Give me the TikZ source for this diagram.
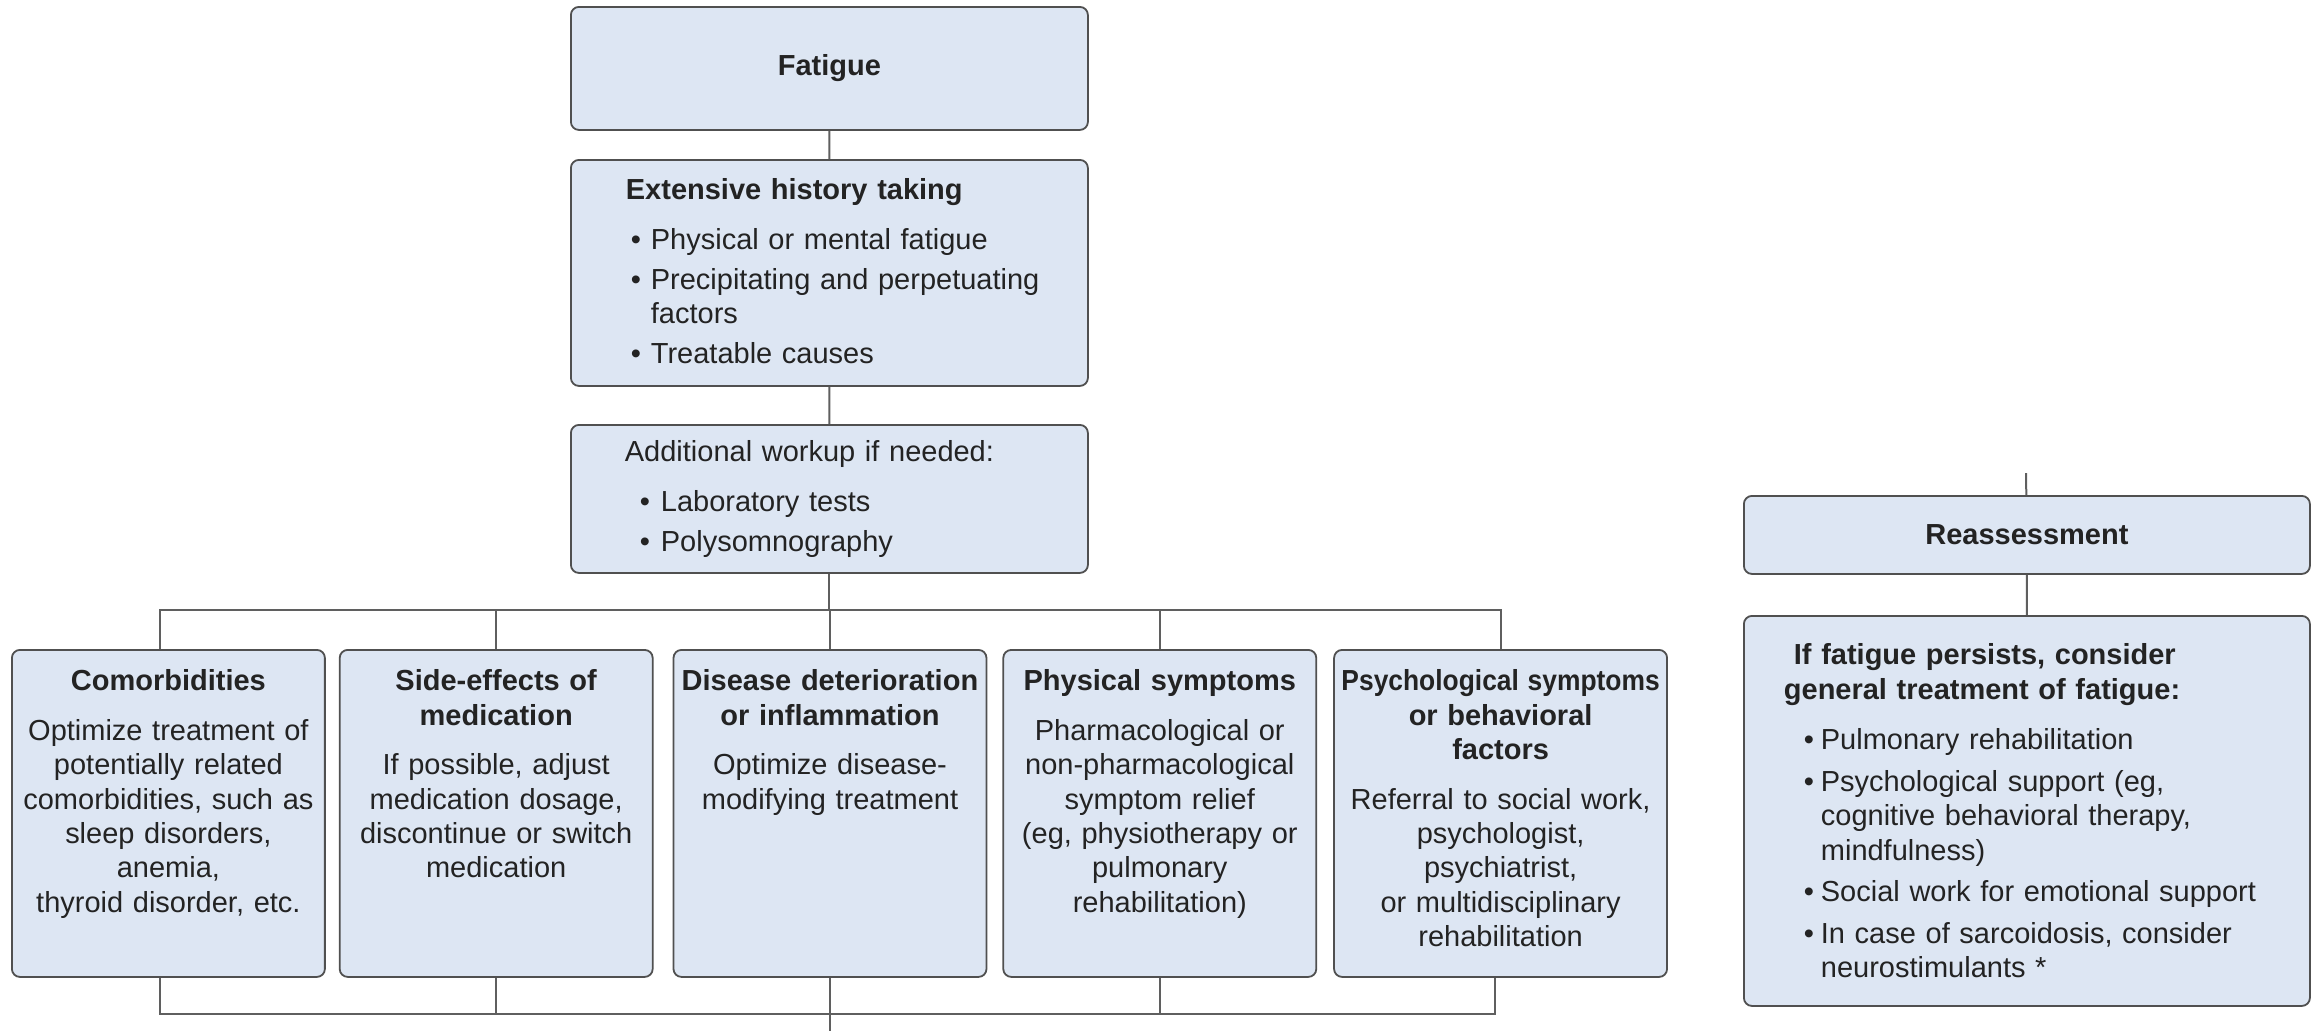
\documentclass[tikz,border=0pt]{standalone}
\usepackage{fontspec}
\usepackage{graphicx}
\setmainfont{Liberation Sans}
\usetikzlibrary{positioning}

\definecolor{boxfill}{RGB}{221,230,243}
\definecolor{boxdraw}{RGB}{80,80,80}
\definecolor{wiregray}{RGB}{95,95,95}
\definecolor{inkgray}{RGB}{35,35,35}

% bullet with indent #1 and bullet box #2
\newcommand{\bitem}[2]{\hspace*{#1}\makebox[#2][l]{\textbullet}}

\tikzset{
  box/.style={draw=boxdraw, fill=boxfill, line width=0.18mm, rounded corners=0.8mm,
    text=inkgray, inner sep=0pt, font=\fontsize{8.25}{9.8}\selectfont},
  title box/.style={box, font=\fontsize{8.25}{9.8}\selectfont\bfseries, anchor=north west},
  list box/.style={box, align=left, anchor=north west},
  cause/.style={box, align=center, anchor=north west, text width=31.3mm,
    text height=4.1mm, text depth=28.6mm},
  wire/.style={draw=wiregray, line width=0.2mm},
}

\begin{document}
\begin{tikzpicture}[x=0.1mm, y=-0.1mm]
\useasboundingbox (0,0) rectangle (2312,1031);

% main column
\node[title box, minimum width=51.7mm, minimum height=12.3mm] (fat) at (570,6) {Fatigue};
\node[list box, text width=40.7mm, inner xsep=5.5mm, text height=4mm, text depth=18.6mm] (his) at (570,159)
  {\textbf{Extensive history taking}\\[4.2pt]
   \bitem{0.5mm}{2mm}Physical or mental fatigue\\[1.6pt]
   \bitem{0.5mm}{2mm}\mbox{Precipitating and perpetuating}\\
   \hspace*{2.5mm}factors\\[1.6pt]
   \bitem{0.5mm}{2mm}Treatable causes};
\node[list box, text width=40.9mm, inner xsep=5.4mm, text height=3.7mm, text depth=11.1mm] (add) at (570,424)
  {Additional workup if needed:\\[4.2pt]
   \bitem{1.5mm}{2.1mm}Laboratory tests\\[1.6pt]
   \bitem{1.5mm}{2.1mm}Polysomnography};

% causes
\node[cause] (com) at (11,649)
  {\textbf{Comorbidities}\\[4.2pt]
   Optimize treatment of\\ potentially related\\ comorbidities, such as\\
   sleep disorders,\\ anemia,\\ thyroid disorder, etc.};
\node[cause, right=1.3mm of com] (sid)
  {\textbf{Side-effects of}\\ \textbf{medication}\\[4.2pt]
   If possible, adjust\\ medication dosage,\\ discontinue or switch\\ medication};
\node[cause, right=1.9mm of sid] (dis)
  {\textbf{Disease deterioration}\\ \textbf{or inflammation}\\[4.2pt]
   Optimize disease-\\ modifying treatment};
\node[cause, right=1.5mm of dis] (phy)
  {\textbf{Physical symptoms}\\[4.2pt]
   Pharmacological or\\ non-pharmacological\\ symptom relief\\
   (eg, physiotherapy or\\ pulmonary\\ rehabilitation)};
\node[cause, text width=33.3mm, right=1.6mm of phy] (psy)
  {\textbf{\scalebox{0.91}[1]{Psychological symptoms}}\\ \textbf{or behavioral}\\ \textbf{factors}\\[4.2pt]
   Referral to social work,\\ psychologist,\\ psychiatrist,\\
   or multidisciplinary\\ rehabilitation};

% right column
\node[title box, minimum width=56.6mm, minimum height=7.8mm] (rea) at (1743,495) {Reassessment};
\node[list box, text width=48.6mm, inner xsep=4mm, text height=4.9mm, text depth=34.1mm] (per) at (1743,615)
  {\textbf{\hspace*{1mm}If fatigue persists, consider}\\
   \textbf{general treatment of fatigue:}\\[4.6pt]
   \bitem{2mm}{1.7mm}Pulmonary rehabilitation\\[2pt]
   \bitem{2mm}{1.7mm}Psychological support (eg,\\
   \hspace*{3.7mm}cognitive behavioral therapy,\\
   \hspace*{3.7mm}mindfulness)\\[2pt]
   \bitem{2mm}{1.7mm}Social work for emotional support\\[2pt]
   \bitem{2mm}{1.7mm}In case of sarcoidosis, consider\\
   \hspace*{3.7mm}neurostimulants *};

% connectors
\coordinate (topbus) at (0,610);
\coordinate (botbus) at (0,1014);
\coordinate (exit) at (827,1031);
\coordinate (back) at (2026,473);

\draw[wire] (fat) -- (his);
\draw[wire] (his) -- (add);
\draw[wire] (add) -- (add.south |- topbus);
\draw[wire] ([xshift=-0.8mm]com.north) -- ([xshift=-0.8mm]com.north |- topbus) -| (psy.north);
\foreach \n in {sid,dis,phy}
  \draw[wire] (\n.north) -- (\n.north |- topbus);
\draw[wire] ([xshift=-0.8mm]com.south) -- ([xshift=-0.8mm]com.south |- botbus) -| ([xshift=-0.6mm]psy.south);
\foreach \n in {sid,phy}
  \draw[wire] (\n.south) -- (\n.south |- botbus);
\draw[wire] (dis.south) -- (dis.south |- exit);
\draw[wire] (back) -- (rea);
\draw[wire] (rea) -- (per);
\end{tikzpicture}
\end{document}
